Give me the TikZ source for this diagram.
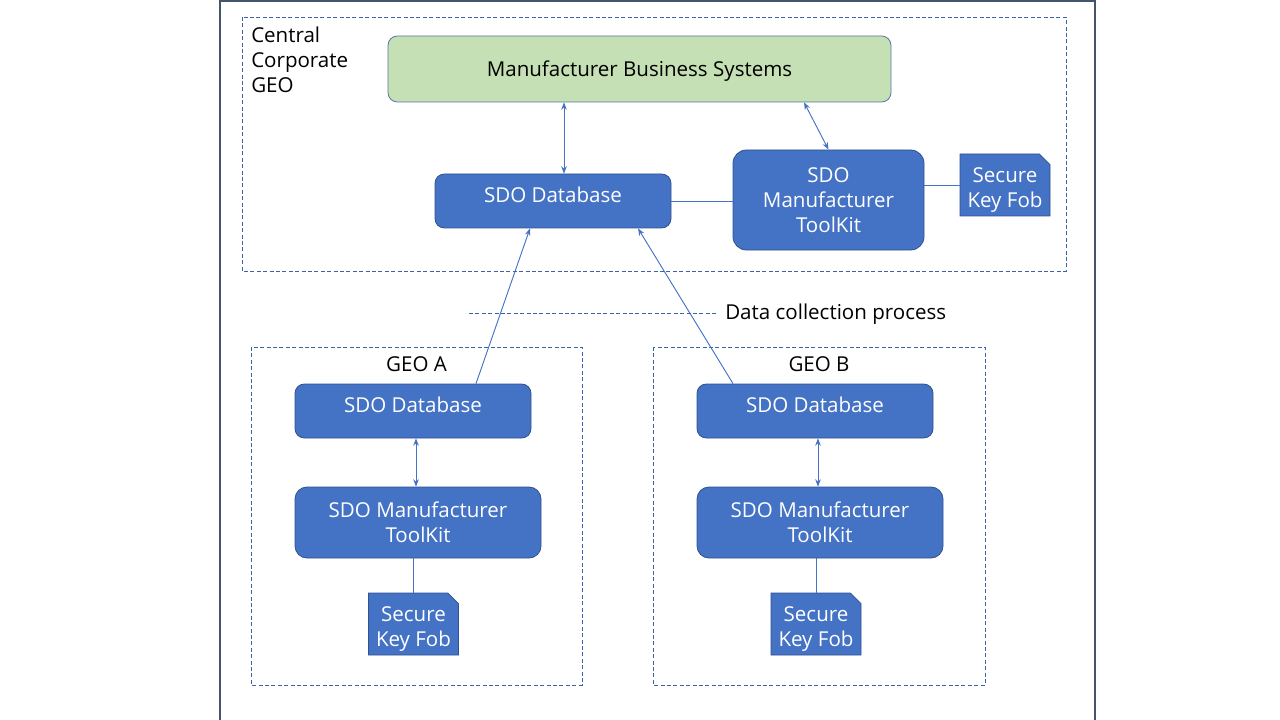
\documentclass[tikz,border=0pt]{standalone}
\usepackage{fontspec}
\setmainfont{Open Sans}
\usetikzlibrary{shapes.misc,arrows.meta}
\definecolor{sdoblue}{HTML}{4472C4}
\definecolor{sdoedge}{HTML}{2F528F}
\definecolor{sdogreen}{HTML}{C5E0B4}
\definecolor{sdoframe}{HTML}{44546A}
\definecolor{sdodash}{HTML}{3A62AE}
\tikzset{>={Stealth[length=5.5pt,width=4.2pt]},
  every node/.style={font=\fontsize{15.4}{18.75}\selectfont},
  region/.style={draw=sdodash,line width=0.6pt,dash pattern=on 3pt off 1.8pt},
  sdobox/.style={draw=sdoedge,fill=sdoblue,text=white,align=center,rounded corners=7pt,line width=0.6pt},
  dbbox/.style={sdobox,minimum width=177pt,minimum height=40.5pt,text height=9pt,text depth=6.5pt},
  fob/.style={chamfered rectangle,chamfered rectangle corners=north east,
    chamfered rectangle xsep=4pt,chamfered rectangle ysep=4pt,
    draw=sdoedge,fill=sdoblue,inner sep=0pt,align=center,
    minimum width=67.5pt,minimum height=46.5pt,line width=0.6pt,
    label={[text=white,align=center,yshift=-4pt]center:{Secure\\Key Fob}}},
  link/.style={draw=sdoblue,line width=0.7pt},
}

\begin{document}
\begin{tikzpicture}[x=0.75pt,y=-0.75pt]
\useasboundingbox (0,0) rectangle (1280,720);
\draw[sdoframe,line width=0.9pt] (220,730) -- (220,1) -- (1095,1) -- (1095,730);
    % regions
    \draw[region] (242,17) rectangle (1066,271);
    \draw[region] (251,347) rectangle (582,685);
    \draw[region] (653,347) rectangle (985,685);
    \node[anchor=north west,align=left,inner sep=0pt] (cenlabel) at (251,27) {Central\\Corporate\\GEO};
    \node (geoAlabel) at (416.5,364.5) {GEO A};
    \node (geoBlabel) at (819,364.5) {GEO B};
    % central
    \node[draw=sdoedge!80,fill=sdogreen,rounded corners=7pt,minimum width=377.25pt,minimum height=49.5pt,line width=0.6pt,text depth=0pt] (mbs) at (639.5,69) {Manufacturer Business Systems};
    \node[dbbox] (cendb) at (553,201) {SDO Database};
    \node[sdobox,minimum width=143.25pt,minimum height=75pt,rounded corners=10pt] (cenkit) at (828.5,200) {SDO\\Manufacturer\\ToolKit};
    \node[fob] (cenfob) at (1005,185) {\phantom{Secure}\\\phantom{Key Fob}};
    \draw[link,<->] ([xshift=8.25pt]cendb.north) -- ([xshift=8.25pt]cendb.north |- mbs.south);
    \draw[link,<->] ([xshift=123.4pt]mbs.south) -- (cenkit.north);
    \draw[link] (cendb.east) -- (cendb.east -| cenkit.west);
    \draw[link] (cenfob.west -| cenkit.east) -- (cenfob.west);
    % GEO A
    \node[dbbox] (geoAdb) at (413,411) {SDO Database};
    \node[sdobox,minimum width=184.5pt,minimum height=53.25pt,rounded corners=9pt] (geoAkit) at (418,522.5) {SDO Manufacturer\\ToolKit};
    \node[fob] (geoAfob) at (413.5,624) {\phantom{Secure}\\\phantom{Key Fob}};
    \draw[link,<->] ([xshift=2.25pt]geoAdb.south) -- ([xshift=-1.5pt]geoAkit.north);
    \draw[link] (geoAfob.north |- geoAkit.south) -- (geoAfob.north);
    % GEO B
    \node[dbbox] (geoBdb) at (815,411) {SDO Database};
    \node[sdobox,minimum width=184.5pt,minimum height=53.25pt,rounded corners=9pt] (geoBkit) at (820,522.5) {SDO Manufacturer\\ToolKit};
    \node[fob] (geoBfob) at (816,624) {\phantom{Secure}\\\phantom{Key Fob}};
    \draw[link,<->] ([xshift=2.25pt]geoBdb.south) -- ([xshift=-1.5pt]geoBkit.north);
    \draw[link] (geoBfob.north |- geoBkit.south) -- (geoBfob.north);
    % data collection
    \draw[link,->] ([xshift=47.25pt]geoAdb.north) -- ([xshift=-17.25pt]cendb.south);
    \draw[link,->] ([xshift=-61.5pt]geoBdb.north) -- ([xshift=63.75pt]cendb.south);
    \coordinate (dcstart) at (469,313);
    \node[anchor=west,inner sep=0pt] (dclabel) at (725,314) {Data collection process};
    \draw[region] (dcstart) -- ([xshift=-5pt]dclabel.west |- dcstart);
    \end{tikzpicture}
\end{document}
